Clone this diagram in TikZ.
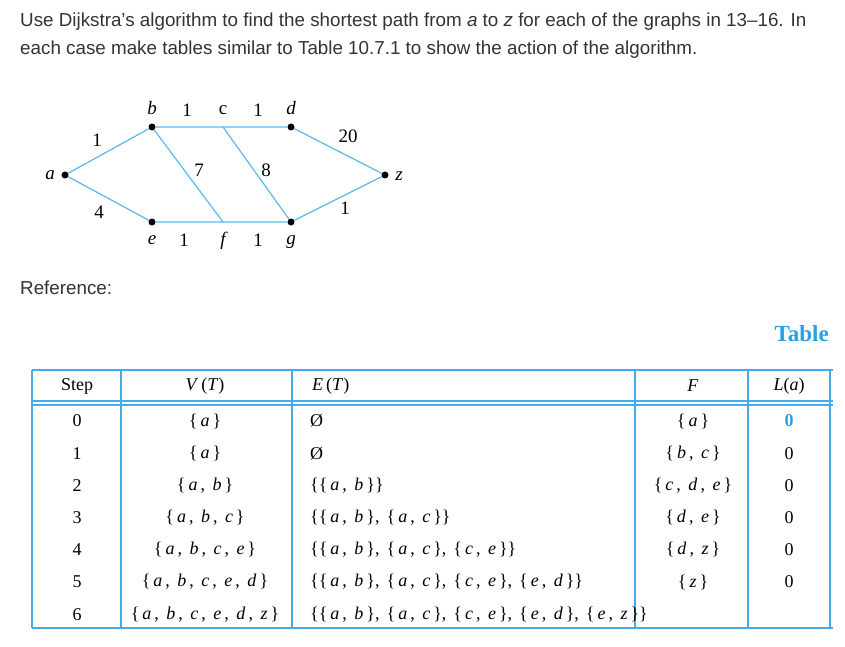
\documentclass[tikz,border=0pt]{standalone}
\usepackage{fontspec}
\setmainfont{Liberation Serif}
\newfontfamily\sans{Liberation Sans}
\definecolor{edge}{RGB}{90,185,235}
\definecolor{tbl}{RGB}{70,170,235}
\definecolor{ttl}{RGB}{40,160,225}
\newcommand{\iv}[1]{\,\textit{#1}\,}
\newcommand{\sep}{,\hspace{7pt}}
\begin{document}
\begin{tikzpicture}[x=1pt,y=-1pt,
  dot/.style={circle,fill=black,inner sep=0pt,minimum size=7pt},
  lbl/.style={font=\fontsize{19}{19}\selectfont\itshape,inner sep=0pt},
  wt/.style={font=\fontsize{19}{19}\selectfont,inner sep=0pt},
  gedge/.style={draw=edge,line width=1.2pt},
  tline/.style={draw=tbl,line width=1.2pt},
  cell/.style={font=\fontsize{18}{18}\selectfont,inner sep=0pt,anchor=center},
  ecell/.style={font=\fontsize{18}{18}\selectfont,inner sep=0pt,anchor=west},
  para/.style={font=\sans\fontsize{18.8}{19}\selectfont,anchor=west,inner sep=0pt,text=black!80}]
\useasboundingbox (0,0) rectangle (845,647);
\node[para] (t1) at (20,22) {Use Dijkstra’s algorithm to find the shortest path from \textit{a} to \textit{z} for each of the graphs in 13–16. In};
\node[para] (t2) at (20,50) {each case make tables similar to Table 10.7.1 to show the action of the algorithm.};
% graph
\node[dot] (a) at (65,175) {};
\node[dot] (b) at (152,127) {};
\node[dot] (d) at (291,127) {};
\node[dot] (z) at (385,175) {};
\node[dot] (e) at (152,222) {};
\node[dot] (g) at (291,222) {};
\coordinate (c) at (223,127);
\coordinate (f) at (223,222);
\draw[gedge] (a)--(b) (a)--(e) (b)--(d) (e)--(g) (d)--(z) (g)--(z) (b)--(f) (c)--(g);
\node[lbl] (la) at (50,175) {a};
\node[lbl] (lb) at (152,108) {b};
\node[wt] (w1) at (187,110) {1};
\node[wt] (lc) at (223,110) {c};
\node[wt] (w2) at (258,110) {1};
\node[lbl] (ld) at (291,108) {d};
\node[wt] (w3) at (348,136) {20};
\node[lbl] (lz) at (399,176) {z};
\node[wt] (w4) at (97,140) {1};
\node[wt] (w5) at (99,212) {4};
\node[wt] (w6) at (199,170) {7};
\node[wt] (w7) at (266,170) {8};
\node[wt] (w8) at (345,208) {1};
\node[lbl] (le) at (152,240) {e};
\node[wt] (w9) at (184,240) {1};
\node[lbl] (lf) at (223,241) {f};
\node[wt] (w10) at (258,240) {1};
\node[lbl] (lg) at (291,242) {g};
\node[para] (ref) at (20,288) {Reference:};
\node[font=\fontsize{23}{23}\selectfont\bfseries,text=ttl,anchor=east,inner sep=0pt] (tt) at (829,334) {Table};
% table
\draw[tbl,line width=2.5pt] (32,370)--(833,370);
\draw[tline] (32,401)--(833,401);
\draw[tline] (32,405)--(833,405);
\draw[tline] (32,628)--(833,628);
\foreach \x in {32,121,292,635,748,830} \draw[tline] (\x,370)--(\x,628);
\node[cell] (h1) at (77,386) {Step};
\node[cell] (h2) at (205,386) {\textit{V}\,(\textit{T})};
\node[ecell] (h3) at (312,386) {\textit{E}\,(\textit{T})};
\node[cell] (h4) at (693,386) {\textit{F}};
\node[cell] (h5) at (789,386) {\textit{L}(\textit{a})};
\foreach \s/\v/\e/\f/\l [count=\i from 0] in {
 0/{\{\iv{a}\}}/{Ø}/{\{\iv{a}\}}/{\textcolor{ttl}{\bfseries 0}},
 1/{\{\iv{a}\}}/{Ø}/{\{\iv{b}, \iv{c}\}}/0,
 2/{\{\iv{a}, \iv{b}\}}/{\{\{\iv{a}, \iv{b}\}\}}/{\{\iv{c}, \iv{d}, \iv{e}\}}/0,
 3/{\{\iv{a}, \iv{b}, \iv{c}\}}/{\{\{\iv{a}, \iv{b}\}\sep\{\iv{a}, \iv{c}\}\}}/{\{\iv{d}, \iv{e}\}}/0,
 4/{\{\iv{a}, \iv{b}, \iv{c}, \iv{e}\}}/{\{\{\iv{a}, \iv{b}\}\sep\{\iv{a}, \iv{c}\}\sep\{\iv{c}, \iv{e}\}\}}/{\{\iv{d}, \iv{z}\}}/0,
 5/{\{\iv{a}, \iv{b}, \iv{c}, \iv{e}, \iv{d}\}}/{\{\{\iv{a}, \iv{b}\}\sep\{\iv{a}, \iv{c}\}\sep\{\iv{c}, \iv{e}\}\sep\{\iv{e}, \iv{d}\}\}}/{\{\iv{z}\}}/0,
 6/{\{\iv{a}, \iv{b}, \iv{c}, \iv{e}, \iv{d}, \iv{z}\}}/{\{\{\iv{a}, \iv{b}\}\sep\{\iv{a}, \iv{c}\}\sep\{\iv{c}, \iv{e}\}\sep\{\iv{e}, \iv{d}\}\sep\{\iv{e}, \iv{z}\}\}}/{}/{}}
{
 \pgfmathsetmacro\yy{421+32.2*\i}
 \node[cell] (s\i) at (77,\yy) {\s};
 \node[cell] (v\i) at (205,\yy) {\v};
 \node[ecell] (e\i) at (310,\yy) {\e};
 \node[cell] (f\i) at (693,\yy) {\f};
 \node[cell] (l\i) at (789,\yy) {\l};
}
\end{tikzpicture}
\end{document}
